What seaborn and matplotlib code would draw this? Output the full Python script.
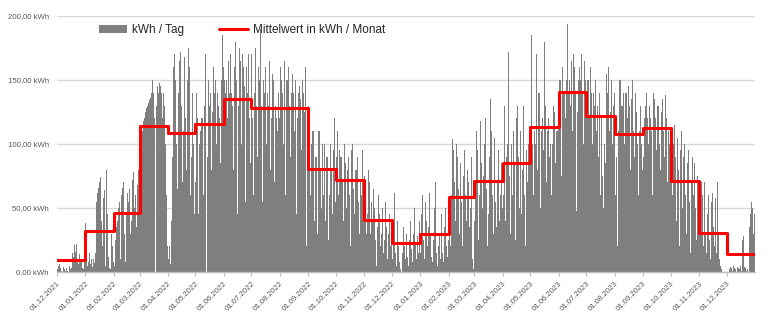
import numpy as np
import pandas as pd
import matplotlib
matplotlib.use("Agg")
import matplotlib.pyplot as plt
from matplotlib.patches import Patch
from matplotlib.lines import Line2D
import seaborn as sns

# Month start labels (first day of each month)
months = ["01.12.2021", "01.01.2022", "01.02.2022", "01.03.2022", "01.04.2022",
          "01.05.2022", "01.06.2022", "01.07.2022", "01.08.2022", "01.09.2022",
          "01.10.2022", "01.11.2022", "01.12.2022", "01.01.2023", "01.02.2023",
          "01.03.2023", "01.04.2023", "01.05.2023", "01.06.2023", "01.07.2023",
          "01.08.2023", "01.09.2023", "01.10.2023", "01.11.2023", "01.12.2023"]

# Monthly mean yield (kWh per day, averaged per month)
monthly_mean = [9, 32, 46, 114, 108.5, 115.5, 135, 128, 128, 80.5, 72, 40.5,
                22.5, 29.5, 58.5, 71, 85, 113, 141, 122, 108, 112.5, 71, 30.5, 14]

# Daily yield in kWh, one list per month
dec21 = [2, 5, 6, 3, 1, 0, 0, 4, 2, 1, 3, 1, 0, 5, 2, 3, 15, 20, 12, 21, 16, 22, 8, 6, 14, 10, 8, 3, 2, 18, 10]
jan22 = [38, 12, 5, 8, 15, 6, 10, 4, 10, 7, 15, 30, 55, 62, 66, 70, 74, 40, 20, 58, 64, 5, 80, 83, 45, 12, 3, 2, 30, 20, 8]
feb22 = [5, 25, 35, 40, 15, 50, 55, 10, 60, 66, 70, 30, 8, 45, 62, 55, 20, 65, 30, 40, 72, 78, 50, 60, 35, 68, 80, 75]
mar22 = [60, 100, 105, 110, 118, 120, 125, 128, 130, 132, 134, 136, 138, 140, 150, 140, 120, 0, 130, 145, 140, 148, 145, 140, 90, 120, 140, 130, 100, 60, 20]
apr22 = [10, 20, 6, 40, 90, 120, 160, 170, 150, 100, 65, 140, 165, 172, 130, 70, 110, 160, 168, 120, 80, 150, 175, 160, 60, 90, 140, 100, 45, 130]
may22 = [70, 140, 120, 45, 100, 110, 120, 120, 60, 130, 170, 110, 0, 90, 150, 130, 140, 80, 125, 160, 140, 150, 100, 60, 140, 130, 120, 85, 150, 185, 160]
jun22 = [150, 140, 150, 120, 60, 165, 140, 170, 140, 130, 80, 160, 180, 150, 45, 130, 175, 150, 165, 100, 170, 160, 145, 55, 160, 140, 170, 120, 85, 150]
jul22 = [170, 120, 60, 140, 175, 130, 90, 160, 150, 190, 130, 120, 55, 150, 140, 160, 100, 140, 130, 165, 80, 120, 155, 135, 150, 70, 130, 120, 110, 140, 120]
aug22 = [160, 150, 140, 100, 170, 165, 60, 150, 150, 160, 130, 90, 140, 155, 140, 110, 140, 150, 45, 120, 140, 145, 135, 95, 150, 140, 125, 160, 130, 20, 110]
sep22 = [130, 120, 60, 100, 110, 110, 40, 90, 90, 70, 30, 110, 110, 80, 50, 100, 60, 100, 40, 90, 90, 70, 25, 60, 100, 80, 45, 95, 120, 55]
oct22 = [90, 110, 60, 30, 95, 90, 90, 70, 40, 100, 85, 50, 80, 90, 60, 75, 20, 95, 100, 65, 45, 80, 80, 90, 55, 30, 70, 85, 60, 95, 50]
nov22 = [75, 60, 30, 45, 80, 70, 30, 55, 30, 40, 65, 50, 25, 5, 35, 60, 45, 20, 30, 50, 40, 15, 25, 55, 35, 10, 30, 45, 20, 30]
dec22 = [10, 30, 62, 25, 15, 5, 40, 20, 8, 2, 0, 15, 35, 20, 10, 45, 30, 12, 5, 25, 40, 18, 8, 30, 50, 22, 10, 35, 28, 15, 40]
jan23 = [15, 45, 60, 25, 10, 55, 40, 20, 5, 35, 62, 30, 12, 8, 25, 50, 70, 15, 5, 20, 40, 30, 10, 45, 15, 8, 35, 50, 20, 12, 25]
feb23 = [30, 45, 20, 60, 104, 95, 70, 40, 100, 90, 65, 30, 85, 100, 55, 20, 75, 95, 60, 40, 80, 70, 35, 50, 90, 60, 10, 2]
mar23 = [40, 70, 110, 95, 25, 60, 118, 85, 50, 30, 75, 100, 120, 65, 20, 45, 90, 135, 110, 60, 30, 80, 105, 55, 35, 70, 95, 40, 60, 85, 50]
apr23 = [60, 130, 110, 40, 90, 100, 172, 75, 30, 100, 60, 110, 85, 25, 70, 120, 130, 90, 50, 110, 45, 80, 130, 60, 20, 95, 110, 70, 100, 110]
may23 = [90, 185, 100, 60, 110, 100, 170, 80, 120, 140, 140, 50, 110, 120, 95, 180, 130, 70, 110, 120, 90, 178, 100, 60, 100, 130, 125, 85, 110, 110, 130]
jun23 = [150, 150, 170, 75, 160, 140, 140, 120, 150, 194, 140, 150, 130, 165, 150, 110, 170, 160, 140, 48, 125, 150, 160, 150, 170, 140, 120, 100, 165, 150]
jul23 = [140, 150, 150, 120, 160, 140, 100, 140, 130, 130, 150, 110, 130, 90, 140, 60, 120, 75, 50, 100, 130, 85, 155, 140, 160, 110, 125, 150, 100, 130, 140]
aug23 = [60, 34, 90, 20, 110, 150, 150, 130, 130, 140, 100, 140, 140, 155, 120, 145, 130, 80, 135, 150, 110, 90, 140, 125, 100, 14, 60, 110, 130, 100, 80]
sep23 = [90, 120, 130, 140, 120, 100, 120, 130, 120, 110, 60, 140, 135, 120, 95, 130, 130, 100, 140, 80, 125, 135, 110, 90, 138, 120, 70, 110, 100, 95]
oct23 = [125, 110, 60, 100, 115, 90, 40, 105, 80, 20, 95, 110, 70, 50, 90, 100, 60, 30, 85, 95, 55, 15, 70, 90, 40, 60, 85, 50, 25, 75, 40]
nov23 = [40, 60, 70, 60, 20, 70, 50, 30, 15, 45, 60, 25, 10, 55, 62, 35, 20, 58, 40, 15, 70, 30, 10, 5, 2, 0, 0, 0, 0, 0]
dec23 = [0, 0, 0, 2, 4, 3, 1, 5, 3, 2, 0, 4, 6, 3, 2, 5, 1, 25, 28, 4, 3, 1, 2, 0, 20, 35, 45, 55, 50, 30, 45]

daily_months = [dec21, jan22, feb22, mar22, apr22, may22, jun22, jul22, aug22,
                sep22, oct22, nov22, dec22, jan23, feb23, mar23, apr23, may23,
                jun23, jul23, aug23, sep23, oct23, nov23, dec23]

# Day index for every daily value, and the index of each month start
daily = np.concatenate([np.asarray(m, dtype=float) for m in daily_months])
day = np.arange(len(daily))
month_len = [len(m) for m in daily_months]
month_start = np.concatenate([[0], np.cumsum(month_len)[:-1]])
n_days = len(daily)

df_daily = pd.DataFrame({"day": day, "kwh": daily})
df_mean = pd.DataFrame({
    "day": np.append(month_start, n_days) - 0.5,
    "kwh": np.append(monthly_mean, monthly_mean[-1]),
})

sns.set_theme(style="white")
plt.rcParams["font.family"] = ["Liberation Sans", "DejaVu Sans"]

fig = plt.figure(figsize=(7.68, 3.29), dpi=100)
ax = fig.add_axes([0.0742, 0.1733, 0.9088, 0.7781])

bar_color = "#7f7f7f"
line_color = "#ff0000"

sns.barplot(data=df_daily, x="day", y="kwh", native_scale=True, color=bar_color,
            width=1.0, linewidth=0, saturation=1, errorbar=None, ax=ax)
sns.lineplot(data=df_mean, x="day", y="kwh", color=line_color, linewidth=2.2,
             drawstyle="steps-post", ax=ax, legend=False)

ax.set_xlim(-0.5, n_days - 0.5)
ax.set_ylim(0, 200)
ax.set_xlabel("")
ax.set_ylabel("")

yt = [0, 50, 100, 150, 200]
ax.set_yticks(yt)
ax.set_yticklabels([f"{v:.2f}".replace(".", ",") + " kWh" for v in yt],
                   fontsize=5.6, color="#595959")
ax.tick_params(axis="y", length=0, pad=6)
ax.yaxis.grid(True, color="#d9d9d9", linewidth=1.0)
ax.set_axisbelow(True)

ax.set_xticks(month_start - 0.5)
ax.set_xticklabels(months, fontsize=5.6, color="#595959", rotation=45,
                   ha="right", rotation_mode="anchor")
ax.tick_params(axis="x", length=3, width=0.8, color="#bfbfbf", pad=3,
               bottom=True)

for side in ["top", "right", "left"]:
    ax.spines[side].set_visible(False)
ax.spines["bottom"].set_color("#bfbfbf")
ax.spines["bottom"].set_linewidth(1.0)

handles = [Patch(facecolor=bar_color, edgecolor="none"),
           Line2D([0], [0], color=line_color, linewidth=2.2)]
ax.legend(handles, ["kWh / Tag", "Mittelwert in kWh / Monat"], ncol=2,
          frameon=False, loc="upper left", bbox_to_anchor=(0.045, 1.01),
          fontsize=8.5, handlelength=2.4, handleheight=0.6, handletextpad=0.4,
          columnspacing=3.0)

fig.savefig("out.png", dpi=100, facecolor="white")
